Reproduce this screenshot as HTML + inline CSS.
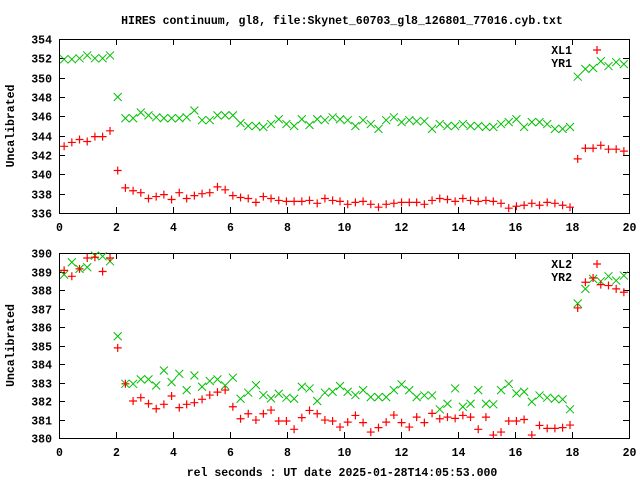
<!DOCTYPE html>
<html><head><meta charset="utf-8"><style>
body{margin:0;background:#fff;}
svg{display:block;font-family:"Liberation Mono",monospace;font-size:11.5px;font-weight:bold;}
</style></head><body>
<svg id="chart" width="640" height="480" viewBox="0 0 640 480" xmlns="http://www.w3.org/2000/svg">
<rect width="640" height="480" fill="#fff"/>
<text x="342" y="24" text-anchor="middle">HIRES continuum, gl8, file:Skynet_60703_gl8_126801_77016.cyb.txt</text>
<text x="342" y="476" text-anchor="middle">rel seconds : UT date 2025-01-28T14:05:53.000</text>
<g id="g"></g>
</svg>
<script>
const times=[0.18,0.45,0.72,0.99,1.26,1.53,1.79,2.06,2.33,2.60,2.87,3.14,3.41,3.68,3.95,4.22,4.48,4.75,5.02,5.29,5.56,5.83,6.10,6.37,6.64,6.91,7.17,7.44,7.71,7.98,8.25,8.52,8.79,9.06,9.33,9.60,9.86,10.13,10.40,10.67,10.94,11.21,11.48,11.75,12.02,12.29,12.55,12.82,13.09,13.36,13.63,13.90,14.17,14.44,14.71,14.98,15.24,15.51,15.78,16.05,16.32,16.59,16.86,17.13,17.40,17.67,17.93,18.20,18.47,18.74,19.01,19.28,19.55,19.82];
const xl1=[342.9,343.3,343.6,343.4,343.9,343.9,344.5,340.4,338.6,338.3,338.1,337.5,337.7,337.9,337.4,338.1,337.5,337.8,338.0,338.1,338.7,338.4,337.8,337.6,337.5,337.1,337.7,337.5,337.3,337.2,337.2,337.2,337.3,337.0,337.5,337.3,337.2,
336.9,337.1,337.2,336.9,336.6,336.9,337.0,337.1,337.1,337.1,336.9,337.3,337.5,337.4,337.2,337.5,337.3,337.2,337.3,337.2,337.0,336.5,336.7,336.8,337.0,336.8,337.1,337.0,336.8,336.6,341.6,342.7,342.7,343.0,342.6,342.6,342.4];
const yr1=[351.9,351.9,352.0,352.3,352.0,352.0,352.3,348.0,345.8,345.8,346.4,346.1,345.9,345.8,345.8,345.8,345.9,346.6,345.6,345.6,346.1,346.1,346.1,345.3,345.0,345.0,344.9,345.2,345.7,345.2,345.0,345.7,345.1,345.7,345.6,345.9,345.7,
345.6,345.0,345.6,345.2,344.7,345.6,345.9,345.4,345.6,345.5,345.5,344.7,345.2,345.0,345.0,345.2,345.0,345.0,344.9,344.9,345.2,345.4,345.7,344.9,345.4,345.4,345.2,344.7,344.7,344.9,350.1,350.9,351.0,351.7,351.2,351.6,351.4];
const xl2=[389.06,388.74,389.14,389.73,389.77,389.0,389.73,384.87,382.93,382.0,382.18,381.85,381.58,381.82,382.27,381.64,381.82,381.91,382.09,382.32,382.48,382.59,381.69,381.04,381.31,380.97,381.31,381.51,380.92,380.92,380.47,381.1,381.49,381.31,380.97,380.92,380.59,380.86,381.22,380.83,380.32,380.56,380.86,381.24,380.83,380.59,381.13,380.83,381.33,381.04,381.13,381.06,381.22,381.13,380.47,381.13,380.16,380.32,380.92,380.92,381.0,380.16,380.68,380.52,380.52,380.56,380.7,387.03,388.42,388.65,388.29,388.24,388.06,387.88];
const yr2=[388.83,389.5,389.14,389.23,389.86,389.82,389.55,385.5,382.93,382.93,383.17,383.17,382.84,383.65,383.02,383.47,382.59,383.38,382.77,383.08,383.17,382.84,383.26,382.12,382.45,382.86,382.32,382.14,382.39,382.18,382.12,382.77,382.68,382.0,382.45,382.5,382.81,382.5,382.32,382.59,382.21,382.21,382.21,382.59,382.9,382.59,382.21,382.3,382.3,381.55,381.85,382.68,381.69,381.85,382.59,381.85,381.82,382.59,382.93,382.41,382.5,381.96,382.3,382.18,382.12,382.09,381.55,387.27,388.06,388.6,388.47,388.74,388.51,388.78];
const xTicks=[0,2,4,6,8,10,12,14,16,18,20];
const yTicksTop=[336,338,340,342,344,346,348,350,352,354];
const yTicksBot=[380,381,382,383,384,385,386,387,388,389,390];

const NS="http://www.w3.org/2000/svg";
const G=document.getElementById('g');
function mk(tag,attrs,parent){const e=document.createElementNS(NS,tag);for(const k in attrs)e.setAttribute(k,attrs[k]);(parent||G).appendChild(e);return e;}
const L=59,R=629;
function xs(t){return L+(t-0)/(20-0)*(R-L);}
function panel(name,top,bot,ymin,ymax,yt,s1,s2,n1,n2){
  const ys=v=>bot-(v-ymin)/(ymax-ymin)*(bot-top);
  const grp=mk('g',{});
  
  
  const fr=mk('rect',{x:L+0.5,y:top+0.5,width:R-L,height:bot-top,fill:'none',stroke:'#000','stroke-width':1},grp);
  
  
  xTicks.forEach(t=>{
    const x=Math.round(xs(t))+0.5;
    mk('line',{x1:x,x2:x,y1:bot,y2:bot-6,stroke:'#000'},grp);
    mk('line',{x1:x,x2:x,y1:top,y2:top+6,stroke:'#000'},grp);
    const tx=mk('text',{x:x,y:bot+18,'text-anchor':'middle'},grp);
    tx.textContent=t;
    
    
  });
  yt.forEach(v=>{
    const y=Math.round(ys(v))+0.5;
    mk('line',{x1:L,x2:L+6,y1:y,y2:y,stroke:'#000'},grp);
    mk('line',{x1:R,x2:R-6,y1:y,y2:y,stroke:'#000'},grp);
    const tx=mk('text',{x:52,y:y+4,'text-anchor':'end'},grp);
    tx.textContent=v;
    
    
  });
  const yl=mk('text',{x:0,y:0,'text-anchor':'middle',transform:`translate(14,${(top+bot)/2}) rotate(-90)`},grp);
  yl.textContent='Uncalibrated';
  
  
  function plus(x,y,p){return mk('path',{d:`M${x-4} ${y}H${x+4}M${x} ${y-4}V${y+4}`,stroke:'#ff0000','stroke-width':1.2,fill:'none'},p);}
  function cross(x,y,p){return mk('path',{d:`M${x-4} ${y-4}L${x+4} ${y+4}M${x-4} ${y+4}L${x+4} ${y-4}`,stroke:'#00c000','stroke-width':1,fill:'none'},p);}
  const g2=mk('g',{},grp);
  
  
  s2.forEach((v,i)=>{const m=cross(xs(times[i]),ys(v),g2);
    
    });
  const g1=mk('g',{},grp);
  
  
  s1.forEach((v,i)=>{const m=plus(xs(times[i]),ys(v),g1);
    
    });
  const t1=mk('text',{x:572,y:top+15,'text-anchor':'end'},grp);
  t1.textContent=n1;
  
  
  const lm=plus(597,top+11,grp);
  
  
  const t2=mk('text',{x:572,y:top+28,'text-anchor':'end'},grp);
  t2.textContent=n2;
  
  
}
panel('top-panel',39,213,336,354,yTicksTop,xl1,yr1,'XL1','YR1');
panel('bottom-panel',253,438,380,390,yTicksBot,xl2,yr2,'XL2','YR2');
</script>
</body></html>
